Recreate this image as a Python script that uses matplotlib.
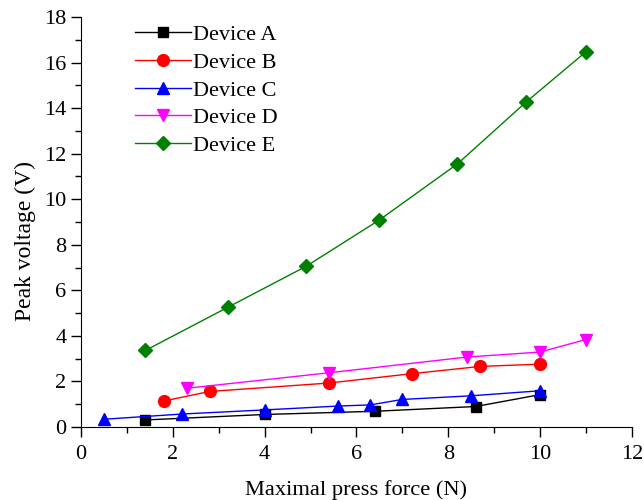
import numpy as np
import matplotlib
matplotlib.use('Agg')
import matplotlib.pyplot as plt
from matplotlib.ticker import MultipleLocator

plt.rcParams['font.family'] = ['Liberation Serif', 'DejaVu Serif']
plt.rcParams['mathtext.fontset'] = 'stix'

# Peak voltage vs maximal press force
a_x = [1.4, 4.0, 6.4, 8.6, 10.0]
a_y = [0.31, 0.55, 0.69, 0.90, 1.42]

b_x = [1.8, 2.8, 5.4, 7.2, 8.7, 10.0]
b_y = [1.14, 1.56, 1.93, 2.34, 2.66, 2.76]

c_x = [0.5, 2.2, 4.0, 5.6, 6.3, 7.0, 8.5, 10.0]
c_y = [0.34, 0.57, 0.75, 0.92, 0.97, 1.21, 1.37, 1.59]

d_x = [2.3, 5.4, 8.4, 10.0, 11.0]
d_y = [1.70, 2.38, 3.07, 3.29, 3.84]

e_x = [1.4, 3.2, 4.9, 6.5, 8.2, 9.7, 11.0]
e_y = [3.36, 5.26, 7.05, 9.09, 11.55, 14.27, 16.47]

series = [
    ('Device A', a_x, a_y, 'black', 's', 7),
    ('Device B', b_x, b_y, 'red', 'o', 8.5),
    ('Device C', c_x, c_y, 'blue', '^', 9),
    ('Device D', d_x, d_y, 'magenta', 'v', 9),
    ('Device E', e_x, e_y, 'green', 'D', 7),
]

fig = plt.figure(figsize=(6.44, 5.0), dpi=100)
ax = fig.add_axes([0.126, 0.146, 0.855, 0.82])

for label, x, y, col, mk, ms in series:
    ax.plot(x, y, color=col, marker=mk, markersize=ms, lw=1.0, label=label)

ax.set_xlim(0, 12)
ax.set_ylim(0, 18)
ax.xaxis.set_major_locator(MultipleLocator(2))
ax.xaxis.set_minor_locator(MultipleLocator(1))
ax.yaxis.set_major_locator(MultipleLocator(2))
ax.yaxis.set_minor_locator(MultipleLocator(1))
ax.tick_params(which='major', direction='out', length=7, width=1, labelsize=16)
ax.tick_params(axis='x', which='major', pad=6)
ax.tick_params(which='minor', direction='out', length=4, width=1)
ax.spines['top'].set_visible(False)
ax.spines['right'].set_visible(False)

ax.set_xlabel('Maximal press force (N)', fontsize=16.2)
ax.set_ylabel('Peak voltage (V)', fontsize=17)
ax.xaxis.set_label_coords(0.5, -0.13)
ax.yaxis.set_label_coords(-0.082, 0.454)

ax.legend(loc='upper left', bbox_to_anchor=(0.062, 1.03), frameon=False,
          fontsize=16, handlelength=2.5, labelspacing=0.32, handletextpad=0.1)

fig.savefig('out.png', dpi=100)
